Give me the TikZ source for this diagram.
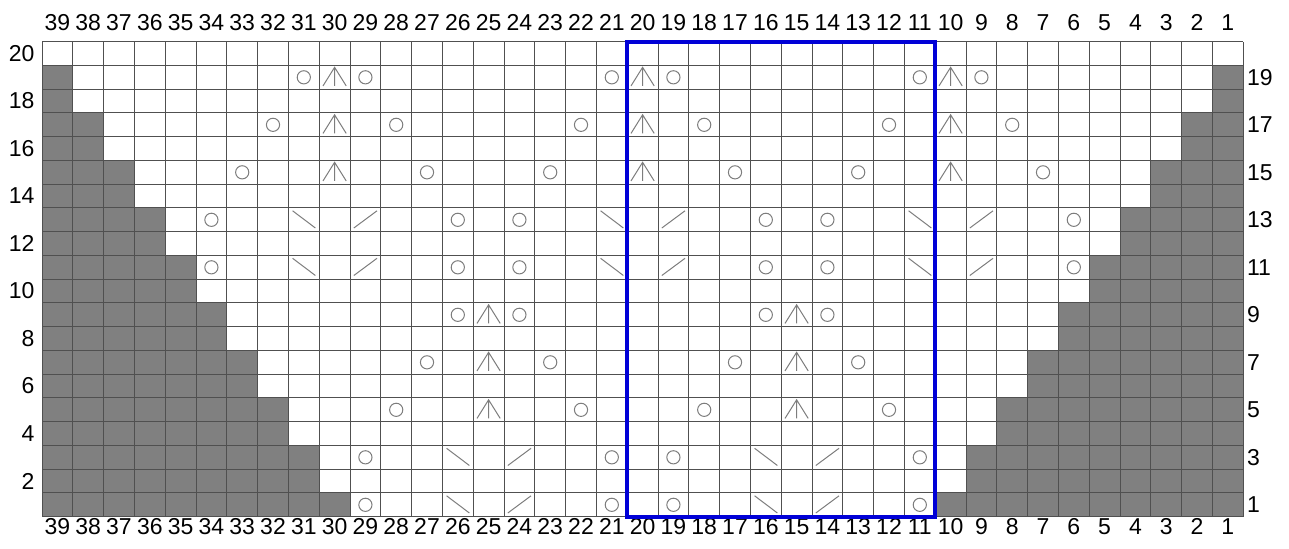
\documentclass[tikz,border=0pt]{standalone}
\usepackage{xcolor}
\usepackage{fontspec}
\setmainfont{Liberation Sans}
\usepackage{tikz}
\usetikzlibrary{positioning, calc}

\definecolor{cinzafundo}{RGB}{128,128,128}
\definecolor{linhagrade}{RGB}{80,80,80}
\definecolor{cinzasimbolo}{RGB}{125,125,125}
\definecolor{azulmoldura}{RGB}{0,0,215}
\newcommand{\fonterotulo}{\fontsize{11.5}{13}\selectfont}

\begin{document}
\begin{tikzpicture}[
        x=15.4pt, y=11.875pt, % Tamanho de cada casa (largura e altura)
        grade/.style={draw=linhagrade, line width=0.5pt},
        fundo/.style={fill=cinzafundo},
        laco/.style={circle, draw=cinzasimbolo, line width=0.5pt, minimum size=6.6pt, inner sep=0pt},
        simbolo/.style={draw=cinzasimbolo, line width=0.5pt},
        moldura/.style={draw=azulmoldura, line width=2pt},
        rotulo/.style={font=\fonterotulo, inner sep=0pt}
        ]
        \useasboundingbox (-21pt,-16.15pt) rectangle (623.5pt,258.35pt);

        % Casas sem ponto (cinza) em escada dos dois lados
        \foreach \r in {1,...,19} {
            \pgfmathtruncatemacro{\n}{(21-\r)/2}
            \fill[fundo] (0,\r-1) rectangle (\n,\r);
            \fill[fundo] (39-\n,\r-1) rectangle (39,\r);
        }

        % Grade 39 x 20
        \foreach \i in {0,...,39}
            \draw[grade] (\i,0) -- (\i,20);
        \foreach \j in {0,...,20}
            \draw[grade] (0,\j) -- (39,\j);

        % Numeracao das colunas (em cima e embaixo)
        \foreach \c in {1,...,39} {
            \node[rotulo] (t\c) at ([yshift=9.6pt]39.5-\c,20) {\c};
            \node[rotulo] (b\c) at ([yshift=-4.9pt]39.5-\c,0) {\c};
        }

        % Numeracao das carreiras (pares a esquerda, impares a direita)
        \foreach \r in {2,4,...,20}
            \node[rotulo, anchor=east] (e\r) at ([xshift=-3.6pt]0,\r-0.5) {\r};
        \foreach \r in {1,3,...,19}
            \node[rotulo, anchor=west] (d\r) at ([xshift=1.7pt]39,\r-0.5) {\r};

        % Lacadas (coluna/carreira)
        \foreach \c/\r in {31/19, 29/19, 21/19, 19/19, 11/19, 9/19,
                           32/17, 28/17, 22/17, 18/17, 12/17, 8/17,
                           33/15, 27/15, 23/15, 17/15, 13/15, 7/15,
                           34/13, 26/13, 24/13, 16/13, 14/13, 6/13,
                           34/11, 26/11, 24/11, 16/11, 14/11, 6/11,
                           26/9, 24/9, 16/9, 14/9,
                           27/7, 23/7, 17/7, 13/7,
                           28/5, 22/5, 18/5, 12/5,
                           29/3, 21/3, 19/3, 11/3,
                           29/1, 21/1, 19/1, 11/1}
            \node[laco] (l-\c-\r) at (39.5-\c,\r-0.5) {};

        % Diminuicao dupla central
        \foreach \c/\r in {30/19, 20/19, 10/19, 30/17, 20/17, 10/17, 30/15, 20/15, 10/15,
                           25/9, 15/9, 25/7, 15/7, 25/5, 15/5}
            \draw[simbolo, shift={(39.5-\c,\r-0.5)}]
                (-5.8pt,-4.3pt) -- (0,5pt) -- (5.8pt,-4.3pt) (0,5pt) -- (0,-4.3pt);

        % Diminuicoes inclinadas para a direita
        \foreach \c/\r in {31/13, 21/13, 11/13, 31/11, 21/11, 11/11, 26/3, 16/3, 26/1, 16/1}
            \draw[simbolo, shift={(39.5-\c,\r-0.5)}] (-5.6pt,4.5pt) -- (5.8pt,-4.1pt);

        % Diminuicoes inclinadas para a esquerda
        \foreach \c/\r in {29/13, 19/13, 9/13, 29/11, 19/11, 9/11, 24/3, 14/3, 24/1, 14/1}
            \draw[simbolo, shift={(39.5-\c,\r-0.5)}] (-5.8pt,-4.1pt) -- (5.8pt,4.5pt);

        % Repeticao do motivo (colunas 20 a 11)
        \draw[moldura] (19,0) rectangle (29,20);

    \end{tikzpicture}
\end{document}
